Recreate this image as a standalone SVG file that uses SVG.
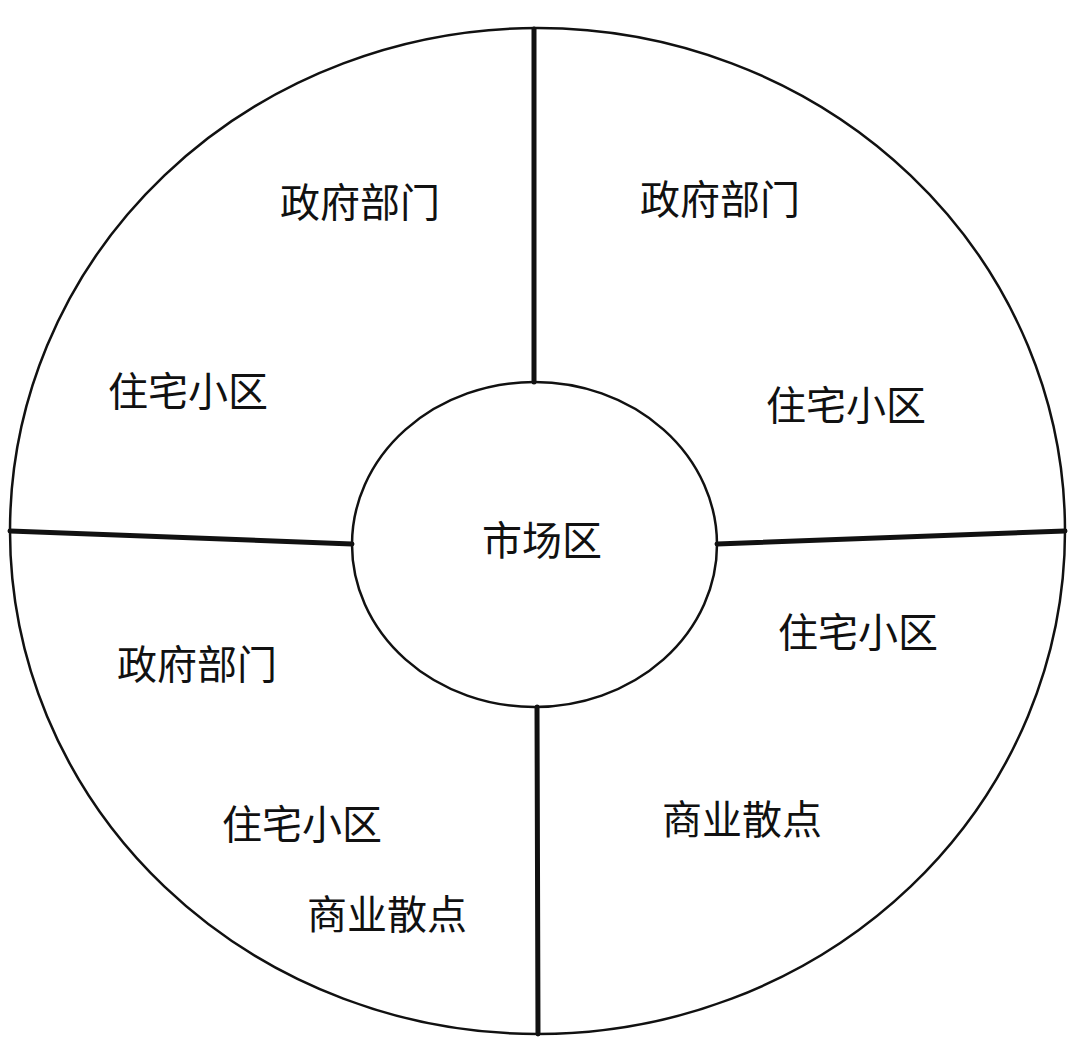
<svg xmlns="http://www.w3.org/2000/svg" width="1080" height="1060" viewBox="0 0 1080 1060">
<style>
.ring{fill:none;stroke:#111;stroke-width:2.5}
.div{stroke:#111;stroke-width:5;stroke-linecap:round}
.lbl{font-family:"Noto Sans CJK SC","Noto Sans CJK JP",sans-serif;font-size:40px;fill:#111;dominant-baseline:central}
</style>
<rect width="1080" height="1060" fill="#fff"/>
<g id="outer-ring"><ellipse class="ring" cx="537.5" cy="531" rx="527.5" ry="503"/></g>
<g id="connectors">
<line class="div" x1="534" y1="29" x2="534" y2="382"/>
<line class="div" x1="10" y1="531" x2="352" y2="544"/>
<line class="div" x1="717" y1="544" x2="1065" y2="531"/>
<line class="div" x1="537" y1="707" x2="538" y2="1034"/>
</g>
<g id="market"><ellipse class="ring" cx="534.5" cy="544.5" rx="182.5" ry="162.5" fill="#fff"/><text class="lbl" x="482" y="538">市场区</text></g>
<g id="tl-gov"><text class="lbl" x="280" y="200">政府部门</text></g>
<g id="tl-res"><text class="lbl" x="108" y="389">住宅小区</text></g>
<g id="tr-gov"><text class="lbl" x="640" y="197">政府部门</text></g>
<g id="tr-res"><text class="lbl" x="766" y="403">住宅小区</text></g>
<g id="br-res"><text class="lbl" x="778" y="630">住宅小区</text></g>
<g id="br-com"><text class="lbl" x="662" y="817">商业散点</text></g>
<g id="bl-gov"><text class="lbl" x="117" y="662">政府部门</text></g>
<g id="bl-res"><text class="lbl" x="222" y="822">住宅小区</text></g>
<g id="bl-com"><text class="lbl" x="307" y="912">商业散点</text></g>
</svg>
